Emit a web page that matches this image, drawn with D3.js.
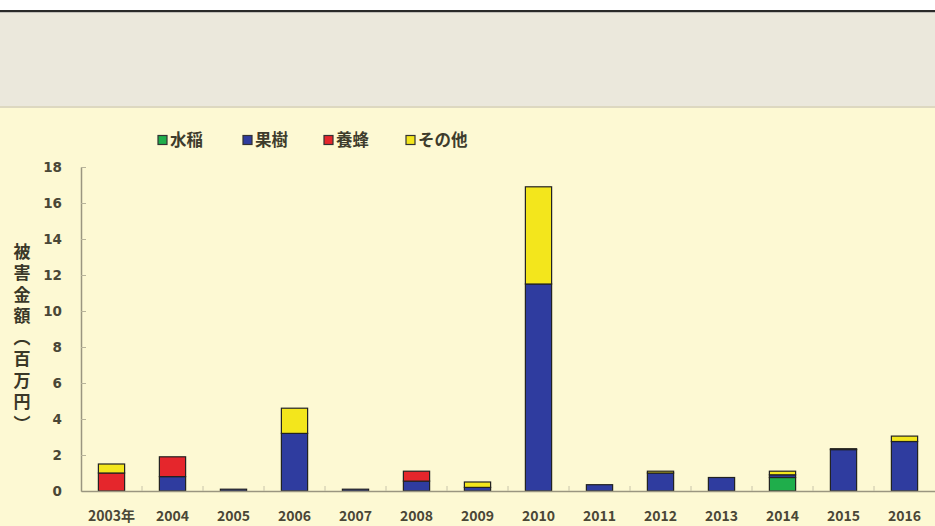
<!DOCTYPE html>
<html>
<head>
<meta charset="utf-8">
<script src="https://cdn.jsdelivr.net/npm/d3@7"></script>
<style>
  body { margin: 0; background: #fff; }
  svg text { font-family: "Noto Sans CJK JP", "Noto Sans", sans-serif; font-weight: bold; }
</style>
</head>
<body>
<div class="chart"></div>
<script>
// Chart parameters
var svg_width = 935;
var svg_height = 526;

// Data (millions of yen)
var years = ["2003年", "2004", "2005", "2006", "2007", "2008", "2009", "2010",
             "2011", "2012", "2013", "2014", "2015", "2016"];
var series_names = ["水稲", "果樹", "養蜂", "その他"];
var rice   = [0,   0,   0,   0,   0,   0,    0,   0,    0,    0,   0,    0.75, 0,    0];
var fruit  = [0,   0.8, 0.1, 3.2, 0.1, 0.55, 0.2, 11.5, 0.35, 1.0, 0.75, 0.15, 2.3,  2.75];
var bees   = [1.0, 1.1, 0,   0,   0,   0.55, 0,   0,    0,    0,   0,    0,    0,    0];
var others = [0.5, 0,   0,   1.4, 0,   0,    0.3, 5.4,  0,    0.1, 0,    0.2,  0.05, 0.3];
var y_ticks = [0, 2, 4, 6, 8, 10, 12, 14, 16, 18];
var y_title = "被害金額（百万円）";
var colors = ["#1fae4b", "#2f3c9f", "#e5262c", "#f3e61c"];

var rows = years.map(function(y, i) {
  return { year: y, "水稲": rice[i], "果樹": fruit[i], "養蜂": bees[i], "その他": others[i] };
});

var svg = d3.select(".chart").append("svg")
  .attr("width", svg_width)
  .attr("height", svg_height);

// backgrounds
svg.append("rect").attr("x", 0).attr("y", 10).attr("width", svg_width).attr("height", 2.5).attr("fill", "#2a2a2a");
svg.append("rect").attr("x", 0).attr("y", 12.5).attr("width", svg_width).attr("height", 94).attr("fill", "#ebe8dc");
svg.append("rect").attr("x", 0).attr("y", 106).attr("width", svg_width).attr("height", 2).attr("fill", "#ddd8c0");
svg.append("rect").attr("x", 0).attr("y", 108).attr("width", svg_width).attr("height", svg_height - 108).attr("fill", "#fdf9d3");

// scales
var x = d3.scaleBand()
  .domain(years)
  .range([81, 935])
  .paddingInner(0.57)
  .paddingOuter(0.285);

var y = d3.scaleLinear()
  .domain([0, 18])
  .range([491, 167]);

var color = d3.scaleOrdinal().domain(series_names).range(colors);

var stacked = d3.stack().keys(series_names)(rows);

// bars
svg.append("g").selectAll("g")
  .data(stacked)
  .enter()
  .append("g")
  .attr("fill", function(d) { return color(d.key); })
  .selectAll("rect")
  .data(function(d) { return d.filter(function(p) { return p[1] - p[0] > 0; }); })
  .enter()
  .append("rect")
  .attr("x", function(d) { return x(d.data.year); })
  .attr("y", function(d) { return y(d[1]); })
  .attr("width", x.bandwidth())
  .attr("height", function(d) { return y(d[0]) - y(d[1]); })
  .attr("stroke", "#222")
  .attr("stroke-width", 1.2);

// y axis
var yAxis = svg.append("g")
  .attr("transform", "translate(81,0)")
  .call(d3.axisLeft(y).tickValues(y_ticks).tickSizeInner(-5).tickSizeOuter(0).tickPadding(19));
yAxis.select(".domain").attr("stroke", "#9a9680").attr("stroke-width", 1.5);
yAxis.selectAll(".tick line").attr("stroke", "#b8b49a");
yAxis.selectAll("text")
  .style("font-family", "'DejaVu Sans', sans-serif")
  .style("font-size", "13.5px")
  .style("font-weight", "bold")
  .attr("fill", "#4a4736");

// x axis
var xAxis = svg.append("g")
  .attr("transform", "translate(0,491)")
  .call(d3.axisBottom(x).tickSize(0).tickPadding(20));
xAxis.select(".domain").attr("stroke", "#9a9680").attr("stroke-width", 1.5);
xAxis.selectAll("text")
  .style("font-size", "14px")
  .attr("fill", "#4a4736");

// small ticks between categories
svg.append("g").selectAll("line")
  .data(years.slice(1))
  .enter()
  .append("line")
  .attr("x1", function(d) { return x(d) - x.step() * x.paddingInner() / 2; })
  .attr("x2", function(d) { return x(d) - x.step() * x.paddingInner() / 2; })
  .attr("y1", 491)
  .attr("y2", 486)
  .attr("stroke", "#c8c4aa");

// y axis title, written vertically
svg.append("text")
  .text(y_title)
  .attr("x", 22)
  .attr("y", 243)
  .attr("writing-mode", "tb")
  .style("writing-mode", "vertical-rl")
  .style("letter-spacing", "4.5px")
  .style("font-size", "17px")
  .attr("fill", "#3a3828");

// legend
var legend_x = [158, 243, 324, 406];
var legend = svg.append("g").selectAll("g")
  .data(series_names)
  .enter()
  .append("g")
  .attr("transform", function(d, i) { return "translate(" + legend_x[i] + ",140)"; });

legend.append("rect")
  .attr("x", 0)
  .attr("y", -4.5)
  .attr("width", 9)
  .attr("height", 9)
  .attr("fill", function(d) { return color(d); })
  .attr("stroke", "#333")
  .attr("stroke-width", 1.2);

legend.append("text")
  .text(function(d) { return d; })
  .attr("x", 12)
  .attr("y", 0)
  .attr("dy", "0.35em")
  .style("font-size", "16.5px")
  .attr("fill", "#3e3c2c");
</script>
</body>
</html>
